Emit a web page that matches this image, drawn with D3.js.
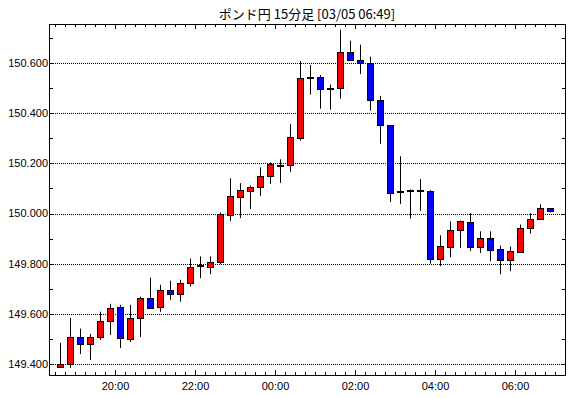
<!DOCTYPE html>
<html>
<head>
<meta charset="utf-8">
<script src="https://cdn.jsdelivr.net/npm/d3@7"></script>
<style>
  body { margin: 0; background: #fff; }
  #chart-wrap { width: 570px; height: 398px; }
  text { font-family: "Liberation Sans", Arial, sans-serif; font-size: 11px; fill: #000; }
  .title { font-family: "Noto Sans CJK JP", sans-serif; font-size: 13px; }
</style>
</head>
<body>
<div id="chart-wrap"></div>
<script>
const width = 570;
const height = 398;
const titleText = 'ポンド円 15分足 [03/05 06:49]';

// 15 minute bars, first bar 03/04 18:30
const startTime = new Date(2024, 2, 4, 18, 30);
const opens = [149.388, 149.400, 149.508, 149.480, 149.509, 149.572, 149.628, 149.500, 149.584, 149.664,
  149.628, 149.696, 149.680, 149.724, 149.790, 149.789, 149.806, 149.994, 150.066, 150.090,
  150.104, 150.148, 150.190, 150.192, 150.300, 150.542, 150.544, 150.498, 150.500, 150.644,
  150.612, 150.600, 150.452, 150.352, 150.084, 150.088, 150.088, 150.088, 149.816, 149.868,
  149.936, 149.968, 149.868, 149.904, 149.860, 149.818, 149.849, 149.944, 149.978, 150.020];
const highs = [149.484, 149.584, 149.541, 149.520, 149.609, 149.640, 149.636, 149.636, 149.668, 149.744,
  149.716, 149.732, 149.736, 149.820, 149.829, 149.829, 150.004, 150.141, 150.121, 150.112,
  150.184, 150.204, 150.216, 150.357, 150.608, 150.592, 150.552, 150.514, 150.733, 150.689,
  150.673, 150.625, 150.469, 150.352, 150.228, 150.096, 150.137, 150.093, 149.913, 149.969,
  149.972, 150.002, 149.929, 149.929, 149.872, 149.868, 149.956, 150.002, 150.037, 150.020];
const lows = [149.387, 149.384, 149.440, 149.416, 149.496, 149.516, 149.464, 149.488, 149.508, 149.620,
  149.608, 149.656, 149.648, 149.708, 149.742, 149.758, 149.798, 149.970, 149.982, 150.018,
  150.070, 150.118, 150.122, 150.166, 150.290, 150.474, 150.418, 150.414, 150.458, 150.612,
  150.556, 150.410, 150.278, 150.046, 150.038, 149.980, 150.010, 149.800, 149.790, 149.826,
  149.862, 149.850, 149.842, 149.810, 149.758, 149.770, 149.846, 149.920, 149.976, 150.004];
const closes = [149.400, 149.508, 149.480, 149.508, 149.572, 149.624, 149.504, 149.584, 149.664, 149.624,
  149.696, 149.680, 149.724, 149.788, 149.790, 149.808, 149.997, 150.068, 150.092, 150.104,
  150.148, 150.196, 150.190, 150.304, 150.540, 150.542, 150.496, 150.498, 150.644, 150.613,
  150.601, 150.452, 150.352, 150.080, 150.084, 150.088, 150.088, 149.816, 149.869, 149.936,
  149.972, 149.868, 149.904, 149.858, 149.818, 149.852, 149.944, 149.980, 150.020, 150.008];
const yTickValues = [149.4, 149.6, 149.8, 150.0, 150.2, 150.4, 150.6];
const xTickLabels = ['20:00', '22:00', '00:00', '02:00', '04:00', '06:00'];

const data = opens.map((o, i) => ({
  time: d3.timeMinute.offset(startTime, i * 15),
  open: o, high: highs[i], low: lows[i], close: closes[i]
}));

const plot = { left: 49, right: 565, top: 24, bottom: 375 };
const fmt = d3.format('.3f');

const x = d3.scaleTime()
  .domain([d3.timeMinute.offset(startTime, -9), d3.timeMinute.offset(startTime, 12 * 60 + 45)])
  .range([plot.left, plot.right]);

const y = d3.scaleLinear()
  .domain([149.4, 150.6])
  .range([364, 63]);

const px = (v) => Math.round(v) + 0.5;

const svg = d3.select('#chart-wrap').append('svg')
  .attr('width', width)
  .attr('height', height);

svg.append('rect')
  .attr('width', width)
  .attr('height', height)
  .attr('fill', '#fff');

// title
svg.append('text')
  .attr('class', 'title')
  .attr('x', (plot.left + plot.right) / 2)
  .attr('y', 19)
  .attr('text-anchor', 'middle')
  .text(titleText);

// grid
svg.append('g')
  .selectAll('line')
  .data(yTickValues)
  .enter()
  .append('line')
  .attr('x1', plot.left)
  .attr('x2', plot.right)
  .attr('y1', d => px(y(d)))
  .attr('y2', d => px(y(d)))
  .attr('stroke', '#000')
  .attr('stroke-dasharray', '1,1');

// y ticks, every 0.1
const yMinor = d3.range(14).map(i => 149.4 + i * 0.1);
const yt = svg.append('g').attr('stroke', '#000');
yMinor.forEach(v => {
  const yy = px(y(v));
  if (yy < plot.top || yy > plot.bottom) return;
  yt.append('line').attr('x1', plot.left).attr('x2', plot.left + 4).attr('y1', yy).attr('y2', yy);
  yt.append('line').attr('x1', plot.right - 3).attr('x2', plot.right).attr('y1', yy).attr('y2', yy);
});

svg.append('g')
  .selectAll('text')
  .data(yTickValues)
  .enter()
  .append('text')
  .attr('x', plot.left - 1)
  .attr('y', d => y(d))
  .attr('dy', '0.36em')
  .attr('text-anchor', 'end')
  .text(d => fmt(d));

// x ticks, every 15 minutes
const xTicks = d3.timeMinute.every(15).range(x.domain()[0], d3.timeMinute.offset(x.domain()[1], 1));
const isMajor = (t) => t.getMinutes() === 0 && t.getHours() % 2 === 0;
const xt = svg.append('g').attr('stroke', '#000');
xTicks.forEach(t => {
  const xx = px(x(t));
  const len = isMajor(t) ? 5 : 3;
  xt.append('line').attr('x1', xx).attr('x2', xx).attr('y1', plot.bottom).attr('y2', plot.bottom - len);
  xt.append('line').attr('x1', xx).attr('x2', xx).attr('y1', plot.top).attr('y2', plot.top + len);
});

svg.append('g')
  .selectAll('text')
  .data(xTicks.filter(isMajor))
  .enter()
  .append('text')
  .attr('x', d => px(x(d)))
  .attr('y', 390)
  .attr('text-anchor', 'middle')
  .text((d, i) => xTickLabels[i]);

// frame
svg.append('rect')
  .attr('x', plot.left + 0.5)
  .attr('y', plot.top + 0.5)
  .attr('width', plot.right - plot.left)
  .attr('height', plot.bottom - plot.top)
  .attr('fill', 'none')
  .attr('stroke', '#000');

// candles
const cx = (d) => Math.round(x(d3.timeSecond.offset(d.time, 450)));

const candles = svg.append('g')
  .selectAll('g')
  .data(data)
  .enter()
  .append('g');

candles.append('line')
  .attr('x1', d => cx(d) + 0.5)
  .attr('x2', d => cx(d) + 0.5)
  .attr('y1', d => y(d.high))
  .attr('y2', d => y(d.low))
  .attr('stroke', '#000');

candles.filter(d => d.open !== d.close)
  .append('rect')
  .attr('x', d => cx(d) - 2.5)
  .attr('y', d => Math.round(y(Math.max(d.open, d.close))) + 0.5)
  .attr('width', 6)
  .attr('height', d => Math.max(1, Math.round(Math.abs(y(d.open) - y(d.close)))))
  .attr('fill', d => d.close > d.open ? '#ff0000' : '#0000ff')
  .attr('stroke', '#000');

candles.filter(d => d.open === d.close)
  .append('rect')
  .attr('x', d => cx(d) - 3)
  .attr('y', d => Math.round(y(d.open)) - 1)
  .attr('width', 7)
  .attr('height', 2)
  .attr('fill', '#000');
</script>
</body>
</html>
